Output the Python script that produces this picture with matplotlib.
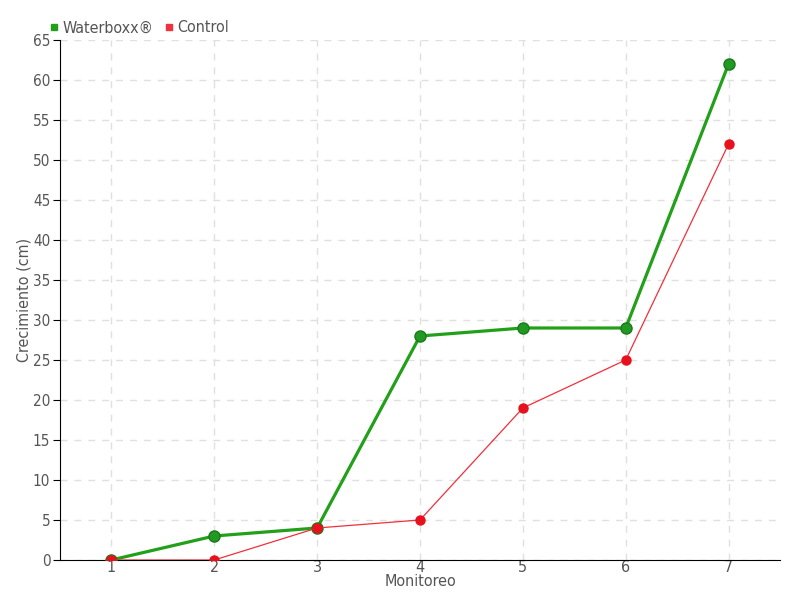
import matplotlib.pyplot as plt
from matplotlib.lines import Line2D

monitoreo = [1, 2, 3, 4, 5, 6, 7]
waterboxx = [0, 3, 4, 28, 29, 29, 62]
control = [0, 0, 4, 5, 19, 25, 52]
y_ticks = list(range(0, 70, 5))

plt.rcParams['font.family'] = ['DejaVu Sans', 'Liberation Sans']
plt.rcParams['font.stretch'] = 'condensed'
text_color = '#555555'

fig = plt.figure(figsize=(8, 6), dpi=100)
ax = fig.add_axes([0.075, 0.0667, 0.9, 0.8666])

ax.plot(monitoreo, waterboxx, color='#22a01a', lw=2.3, marker='o', ms=8,
        markerfacecolor='#229922', markeredgecolor='#1a7a1a', markeredgewidth=1, zorder=3)
ax.plot(monitoreo, control, color='#f0303a', lw=0.9, marker='o', ms=6.5,
        markerfacecolor='#e8101c', markeredgecolor='#e8101c', zorder=4)

ax.set_xlim(0.5, 7.5)
ax.set_ylim(0, 65)
ax.set_xticks(monitoreo)
ax.set_yticks(y_ticks)
ax.grid(True, color='#e0e0e0', linestyle=(0, (5, 5)), lw=1)
ax.set_axisbelow(True)

for s in ['top', 'right']:
    ax.spines[s].set_visible(False)
ax.spines['left'].set_color('black')
ax.spines['bottom'].set_color('black')

ax.tick_params(axis='y', length=5, direction='out', colors='black', labelcolor=text_color,
               labelsize=11, pad=2)
ax.tick_params(axis='x', length=0, labelcolor=text_color, labelsize=11.5, pad=0)

ax.set_xlabel('Monitoreo', color=text_color, fontsize=11.5, labelpad=-1)
ax.set_ylabel('Crecimiento (cm)', color=text_color, fontsize=11.5, labelpad=1)

handles = [
    Line2D([], [], color='#22a01a', marker='s', ls='none', ms=5),
    Line2D([], [], color='#f0303a', marker='s', ls='none', ms=5),
]
fig.legend(handles, ['Waterboxx®', 'Control'], loc='upper left', bbox_to_anchor=(0.04, 0.99),
           ncol=2, frameon=False, fontsize=11.5, handletextpad=0.0, columnspacing=0.5,
           labelcolor=text_color, handlelength=1)

fig.savefig('out.png', dpi=100)
